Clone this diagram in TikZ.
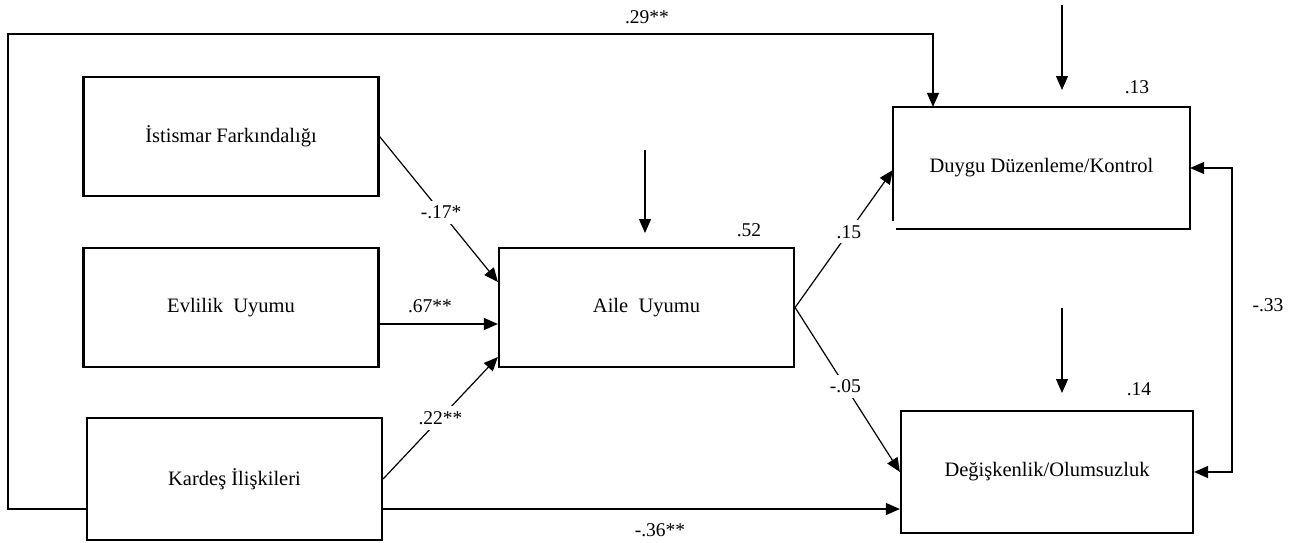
\documentclass[tikz,border=0pt]{standalone}
\usepackage{fontspec}
\setmainfont{Liberation Serif}
\usetikzlibrary{arrows.meta}
\begin{document}
\begin{tikzpicture}[x=1pt,y=-1pt,
  box/.style={draw,line width=2.2pt,minimum width=295pt,minimum height=119pt,inner sep=0pt,font=\fontsize{20.5}{24}\selectfont},
  conn/.style={line width=1.2pt},
  arr/.style={conn,-{Triangle[length=14pt,width=12pt]}},
  darr/.style={conn,{Triangle[length=14pt,width=12pt]}-{Triangle[length=14pt,width=12pt]}},
  lab/.style={font=\fontsize{19.5}{23}\selectfont,inner sep=1pt},
  gap/.style={lab,fill=white,inner sep=5pt}]
\useasboundingbox (0,0) rectangle (1314,542);
% boxes
\node[box] (I) at (231,136.5) {İstismar Farkındalığı};
\node[box] (E) at (231,307.5) {Evlilik\ \ Uyumu};
\node[box,minimum height=122pt] (K) at (234.5,479) {Kardeş İlişkileri};
\node[box] (A) at (646.5,307.5) {Aile\ \ Uyumu};
\node[box,draw=none,minimum height=120pt] (D) at (1041.5,168) {Duygu Düzenleme/Kontrol};
\draw[line width=2.2pt] ([yshift=8pt]D.south west) -- (D.north west) -- (D.north east) -- (D.south east) -- ([xshift=3pt]D.south west);
\node[box,minimum width=292pt,minimum height=122pt] (G) at (1047,472) {Değişkenlik/Olumsuzluk};
% frame coordinates
\coordinate (fl) at (8,509);
\coordinate (ft) at (8,34);
\coordinate (fx) at (933,34);
\coordinate (rx) at (1232,0);
% error terms
\coordinate (eA1) at (645,150);
\coordinate (eA2) at (645,233);
\coordinate (eD1) at (1062,5);
\coordinate (eD2) at (1062,90);
\coordinate (eG1) at (1062,308);
\coordinate (eG2) at (1062,393);
\draw[arr] (eA1) -- (eA2);
\draw[arr] (eD1) -- (eD2);
\draw[arr] (eG1) -- (eG2);
% connectors
\draw[arr] (K.west |- fl) -- (fl) -- (ft) -- (fx) -- (fx |- D.north);
\draw[arr] (K.east |- fl) -- (G.west |- fl);
\draw[arr] (I.east) -- node[gap,pos=0.52]{-.17*} ([yshift=25.5pt]A.west);
\draw[arr] ([yshift=-16.5pt]E.east) -- ([yshift=-16.5pt]A.west);
\draw[arr] (K.east) -- node[gap,pos=0.5]{.22**} ([yshift=-49.5pt]A.west);
\draw[arr] (A.east) -- node[gap,pos=0.55]{.15} ([yshift=-2pt]D.west);
\draw[arr] (A.east) -- node[gap,pos=0.48]{-.05} (G.west);
\draw[darr] (D.east) -- (D.east -| rx) -- (G.east -| rx) -- (G.east);
% labels
\node[lab] at (647,17) {.29**};
\node[lab] at (660,530) {-.36**};
\node[lab] at (430,306) {.67**};
\node[lab] at (749,230) {.52};
\node[lab] at (1137,87) {.13};
\node[lab] at (1139,389) {.14};
\node[lab] at (1268,305) {-.33};
\end{tikzpicture}
\end{document}
